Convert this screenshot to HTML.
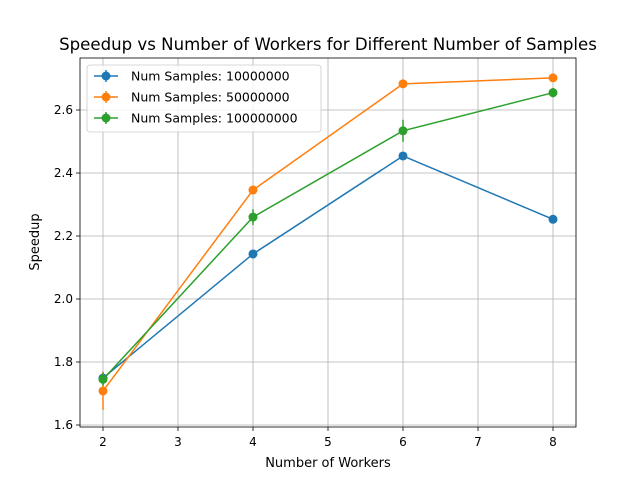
<!DOCTYPE html>
<html><head><meta charset="utf-8"><style>
body{margin:0;background:#fff}
svg text{font-family:"DejaVu Sans","Liberation Sans",sans-serif}
</style></head><body>
<svg id="chart" width="640" height="480" xmlns="http://www.w3.org/2000/svg">
<rect width="640" height="480" fill="#fff"/>
<text x="328" y="50" font-size="16.6" text-anchor="middle">Speedup vs Number of Workers for Different Number of Samples</text>
<text x="328" y="467" font-size="13" text-anchor="middle">Number of Workers</text>
<text x="0" y="0" font-size="13" text-anchor="middle" transform="translate(39,242) rotate(-90)">Speedup</text>
<g id="grid"></g><g id="series"></g><g id="ticks"></g>
<rect x="80" y="58" width="496" height="369" fill="none" stroke="#000" stroke-width="0.8"/>
<g id="legend"></g>
</svg>
<script>
const workers = [2, 4, 6, 8];
const seriesLabels = ["Num Samples: 10000000", "Num Samples: 50000000", "Num Samples: 100000000"];
const seriesColors = ["#1f77b4", "#ff7f0e", "#2ca02c"];
const speedup10M = [1.749, 2.143, 2.454, 2.253];
const speedup50M = [1.708, 2.346, 2.683, 2.702];
const speedup100M = [1.745, 2.260, 2.534, 2.655];
const err10M = [0.02, 0.01, 0.01, 0.01];
const err50M = [0.06, 0.01, 0.01, 0.01];
const err100M = [0.02, 0.025, 0.035, 0.015];
const xTicks = [2, 3, 4, 5, 6, 7, 8];
const yTicks = [1.6, 1.8, 2.0, 2.2, 2.4, 2.6];

const NS = "http://www.w3.org/2000/svg";
const xs = v => 103 + (v - 2) * 75;
const ys = v => 425 - (v - 1.6) * 315;
function mk(parent, tag, attrs, text) {
  const e = document.createElementNS(NS, tag);
  for (const k in attrs) e.setAttribute(k, attrs[k]);
  if (text !== undefined) e.textContent = text;
  document.getElementById(parent).appendChild(e);
  return e;
}
xTicks.forEach(t => {
  const g = mk("grid", "line", {x1: xs(t), x2: xs(t), y1: 58, y2: 427, stroke: "#b0b0b0", "stroke-width": 0.8});
  
  
  mk("ticks", "line", {x1: xs(t), x2: xs(t), y1: 427, y2: 431, stroke: "#000", "stroke-width": 0.8});
  const l = mk("ticks", "text", {x: xs(t), y: 446, "font-size": 12, "text-anchor": "middle"}, String(t));
  
  
});
yTicks.forEach(t => {
  const g = mk("grid", "line", {x1: 80, x2: 576, y1: ys(t), y2: ys(t), stroke: "#b0b0b0", "stroke-width": 0.8});
  
  
  mk("ticks", "line", {x1: 76, x2: 80, y1: ys(t), y2: ys(t), stroke: "#000", "stroke-width": 0.8});
  const l = mk("ticks", "text", {x: 73, y: ys(t) + 4, "font-size": 12, "text-anchor": "end"}, t.toFixed(1));
  
  
});
const allVals = [speedup10M, speedup50M, speedup100M];
const allErr = [err10M, err50M, err100M];
allVals.forEach((vals, s) => {
  const c = seriesColors[s];
  const pts = vals.map((v, i) => xs(workers[i]) + "," + ys(v)).join(" ");
  const pl = mk("series", "polyline", {points: pts, fill: "none", stroke: c, "stroke-width": 1.5});
  
  
  vals.forEach((v, i) => {
    const e = allErr[s][i];
    const eb = mk("series", "line", {x1: xs(workers[i]), x2: xs(workers[i]), y1: ys(v - e), y2: ys(v + e), stroke: c, "stroke-width": 1.5});
    
    
    const p = mk("series", "circle", {cx: xs(workers[i]), cy: ys(v), r: 4.5, fill: c});
    
    
  });
});
const lb = mk("legend", "rect", {x: 87, y: 65, width: 234, height: 67, rx: 3, fill: "#fff", "fill-opacity": 0.8, stroke: "#ccc", "stroke-width": 0.8});


seriesLabels.forEach((lab, s) => {
  const y = 76 + s * 21;
  const c = seriesColors[s];
  mk("legend", "line", {x1: 94, x2: 118, y1: y, y2: y, stroke: c, "stroke-width": 1.5});
  mk("legend", "line", {x1: 106, x2: 106, y1: y - 6, y2: y + 6, stroke: c, "stroke-width": 1.5});
  mk("legend", "circle", {cx: 106, cy: y, r: 4.5, fill: c});
  const t = mk("legend", "text", {x: 131, y: y + 4.5, "font-size": 12.5}, lab);
  
  
});
</script>
</body></html>
